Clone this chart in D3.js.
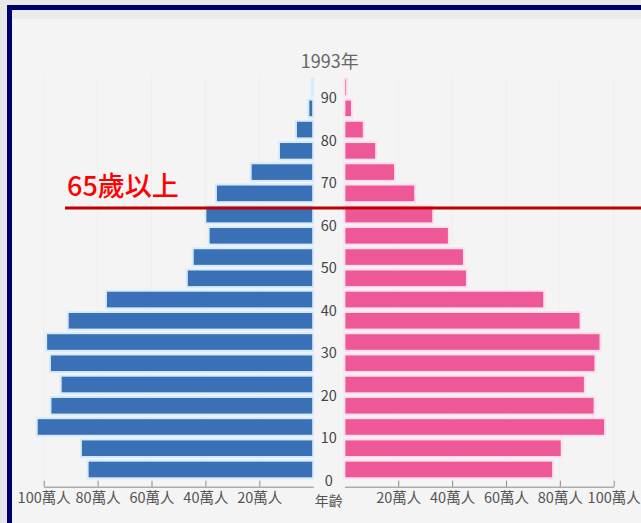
<!DOCTYPE html>
<html><head><meta charset="utf-8">
<script src="https://cdn.jsdelivr.net/npm/d3@7"></script>
<style>
html,body{margin:0;padding:0;background:#e8e8e8;overflow:hidden;}
svg{display:block;}
</style></head>
<body>
<svg id="c" width="641" height="523"></svg>
<script>
const title = "1993年";
const ageGroups = [0,5,10,15,20,25,30,35,40,45,50,55,60,65,70,75,80,85,90];
const male   = [83.7,86.2,102.6,97.5,93.7,97.7,99.1,91.1,76.9,46.9,44.7,38.8,40.0,36.1,23.2,12.7,6.4,1.8,0.6];
const female = [77.5,80.7,96.8,92.9,89.3,93.2,95.1,87.7,74.2,45.5,44.4,38.8,33.0,26.3,18.8,11.8,7.2,2.8,1.0];
const ageTicks = [0,10,20,30,40,50,60,70,80,90];
const valueTicks = [20,40,60,80,100];
const tickUnit = "萬人";
const axisTitle = "年齡";
const markerAge = 65;
const markerLabel = "65歲以上";

const svg = d3.select("#c");
const font = "'Noto Sans CJK TC','Noto Sans',sans-serif";

// frame
svg.append("rect").attr("x",0).attr("y",0).attr("width",641).attr("height",523).attr("fill","#e8e8e8");
svg.append("rect").attr("x",12).attr("y",10).attr("width",700).attr("height",600).attr("fill","#f4f4f4");
svg.append("rect").attr("x",12).attr("y",10).attr("width",700).attr("height",9).attr("fill","#ebebeb");
svg.append("rect").attr("x",9.5).attr("y",7.5).attr("width",700).attr("height",600)
  .attr("fill","none").attr("stroke","#00006e").attr("stroke-width",5);

const y = d3.scaleLinear().domain([0,95]).range([480.1,76.5]);
const xM = d3.scaleLinear().domain([0,100]).range([313.2,43.7]);
const xF = d3.scaleLinear().domain([0,100]).range([344.4,613.7]);
const cx = (xM(0)+xF(0))/2;

// faint grid
const g0 = svg.append("g");
valueTicks.forEach(v=>{
  [xM(v),xF(v)].forEach(x=>{
    g0.append("line").attr("x1",x).attr("x2",x).attr("y1",y(95)).attr("y2",y(0))
      .attr("stroke","#eeeeee").attr("stroke-width",1);
  });
});

// title
svg.append("text").attr("x",cx+1).attr("y",60).attr("text-anchor","middle")
  .attr("dominant-baseline","central").attr("font-family",font).attr("font-size",18)
  .attr("fill","#666").text(title);

const barH = 17.6;
const data = ageGroups.map((a,i)=>({a, m:male[i], f:female[i]}));

svg.append("g").selectAll("rect").data(data).join("rect")
  .attr("x",d=>xM(d.m)).attr("width",d=>xM(0)-xM(d.m))
  .attr("y",d=>y(d.a+2.5)-barH/2).attr("height",barH)
  .attr("fill","#3a70b6").attr("stroke","#d6ecfb").attr("stroke-width",2);

svg.append("g").selectAll("rect").data(data).join("rect")
  .attr("x",xF(0)).attr("width",d=>xF(d.f)-xF(0))
  .attr("y",d=>y(d.a+2.5)-barH/2).attr("height",barH)
  .attr("fill","#ee5896").attr("stroke","#fde0ee").attr("stroke-width",2);

// age labels
svg.append("g").selectAll("text").data(ageTicks).join("text")
  .attr("x",cx).attr("y",d=>y(d)-1).attr("text-anchor","middle")
  .attr("dominant-baseline","central").attr("font-family",font).attr("font-size",14.5)
  .attr("fill","#444").text(d=>d);

// axes
function styleAxis(g){
  g.selectAll("path,line").attr("stroke","#8a8a8a");
  g.selectAll("text").attr("font-family",font).attr("font-size",14.5).attr("fill","#555");
}
const axM = d3.axisBottom(xM).tickValues(valueTicks).tickFormat(d=>d+tickUnit)
  .tickSizeInner(-6).tickSizeOuter(0).tickPadding(6);
const axF = d3.axisBottom(xF).tickValues(valueTicks).tickFormat(d=>d+tickUnit)
  .tickSizeInner(-6).tickSizeOuter(0).tickPadding(6);
svg.append("g").attr("transform","translate(0,486.7)").call(axM).call(styleAxis);
svg.append("g").attr("transform","translate(0,486.7)").call(axF).call(styleAxis);

svg.append("text").attr("x",cx).attr("y",499.5).attr("text-anchor","middle")
  .attr("dominant-baseline","central").attr("font-family",font).attr("font-size",14)
  .attr("fill","#555").text(axisTitle);

// 65+ marker
const my = y(markerAge)+4;
svg.append("line").attr("x1",65).attr("x2",700).attr("y1",my).attr("y2",my)
  .attr("stroke","#c00000").attr("stroke-width",3);
svg.append("text").attr("x",67).attr("y",my-23).attr("dominant-baseline","central")
  .attr("font-family",font).attr("font-size",27).attr("font-weight",500)
  .attr("fill","#ff0000").text(markerLabel);
</script>
</body></html>
